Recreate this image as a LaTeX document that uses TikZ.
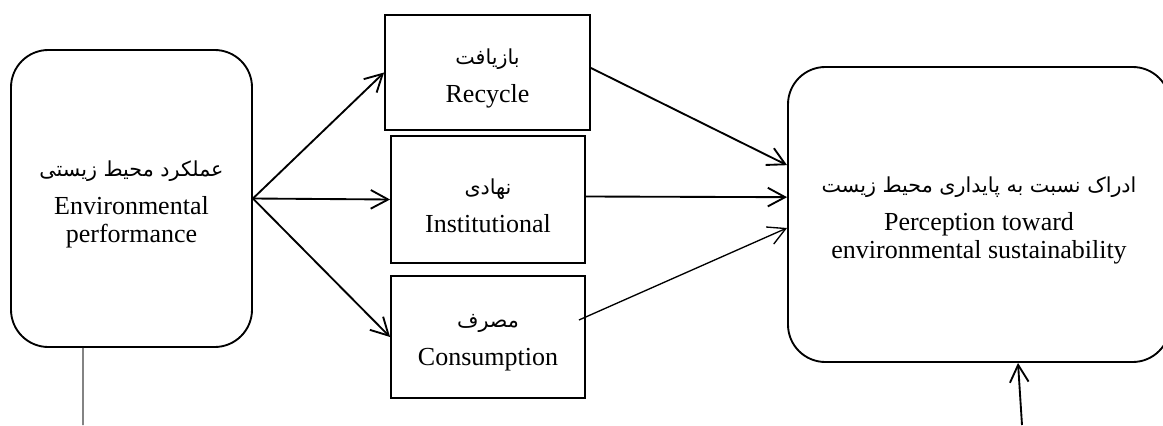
\documentclass[tikz,border=0pt]{standalone}
\usepackage{fontspec}
\setmainfont{Liberation Serif}
\newfontfamily\fa[Script=Arabic]{DejaVu Sans}
\TeXXeTstate=1
\usetikzlibrary{arrows.meta,calc}
\newcommand{\faline}[1]{{\fa\fontsize{15.5}{21}\selectfont\sbox0{\beginR #1\endR}\rule{0pt}{\dimexpr\ht0+9pt\relax}\usebox0}}
\begin{document}
\begin{tikzpicture}[x=0.75pt,y=-0.75pt,
  box/.style={draw,line width=1.4pt,inner sep=0pt,align=center,font=\fontsize{19.5}{21}\selectfont},
  rbox/.style={box,rounded corners=28pt},
  conn/.style={line width=1.4pt,-{Straight Barb[length=13pt,width=14pt]}},
  thinline/.style={line width=0.8pt,black!75}
  ]
\useasboundingbox (0,0) rectangle (1163,425);
\node[rbox,minimum width=180.75pt,minimum height=222.75pt] (env) at (131.5,198.5)
  {\faline{عملکرد محیط زیستی}\\[7.5pt]Environmental\\performance};
\node[box,minimum width=153.75pt,minimum height=86.25pt] (rec) at (487.5,72.5)
  {\faline{بازیافت}\\[7.5pt]Recycle};
\node[box,minimum width=145.5pt,minimum height=95.25pt] (inst) at (488,199.5)
  {\faline{نهادی}\\[7.5pt]Institutional};
\node[box,minimum width=145.5pt,minimum height=91.5pt] (cons) at (488,337)
  {\faline{مصرف}\\[7.5pt]Consumption};
\node[rbox,minimum width=286.5pt,minimum height=221.25pt] (per) at (979,214.5)
  {\faline{ادراک نسبت به پایداری محیط زیست}\\[7.5pt]Perception toward\\environmental sustainability};
\coordinate (a) at (83,425);
\coordinate (b) at (1022,425);
\draw[conn] (env.east) -- (rec.west);
\draw[conn] (env.east) -- (inst.west);
\draw[conn] (env.east) -- (cons.west);
\draw[conn] ([yshift=3.4pt]rec.east) -- ([yshift=37pt]per.west);
\draw[conn] ([yshift=2.25pt]inst.east) -- ([yshift=13pt]per.west);
\draw[conn,line width=1pt] ([xshift=-5.25pt,yshift=12.75pt]cons.east) -- ([yshift=-10.1pt]per.west);
\draw[conn] (b) -- ([xshift=29.25pt]per.south);
\draw[thinline] ([xshift=-36.4pt]env.south) -- (a);
\end{tikzpicture}
\end{document}
